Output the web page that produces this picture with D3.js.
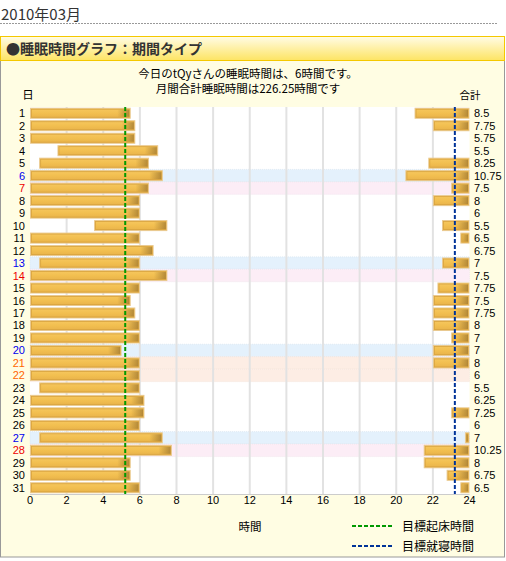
<!DOCTYPE html>
<html>
<head>
<meta charset="utf-8">
<script src="https://cdn.jsdelivr.net/npm/d3@7"></script>
<style>
  body { margin: 0; background: #fff; }
  text { font-family: "Liberation Sans", Arial, "Noto Sans CJK JP", sans-serif; }
  .jp { font-family: "Noto Sans CJK JP", sans-serif; }
</style>
</head>
<body>
<svg id="chart" width="506" height="561"></svg>
<script>
// one row per day of March 2010
const days = d3.range(1, 32);
// morning part of the sleep (hours after midnight)
const wakeStart = [0,0,0,1.5,0.5,0,0,0,0,3.5,0,0,0.5,0,0,0,0,0,0,0,0,0,0.5,0,0,0,0.5,0,0,0,0];
const wakeEnd   = [5.5,5.75,5.75,7,6.5,7.25,6.5,6,6,7.5,6,6.75,6,7.5,6,5.5,5.75,6,6,5,6,6,6,6.25,6.25,6,7.25,7.75,5.5,5.5,6];
// evening part: time the user went to bed (null = after midnight)
const bedStart  = [21,22,null,null,21.75,20.5,23,22,null,22.5,23.5,null,22.5,null,22.25,22,22,22,23,22,22,null,null,null,23,null,23.75,21.5,21.5,22.75,23.5];
const totals = ["8.5","7.75","5.75","5.5","8.25","10.75","7.5","8","6","5.5","6.5","6.75","7","7.5","7.75","7.5","7.75","8","7","7","8","6","5.5","6.25","7.25","6","7","10.25","8","6.75","6.5"];
// "sat", "sun", "hol" or ""
const dayType = ["","","","","","sat","sun","","","","","","sat","sun","","","","","","sat","hol","hol","","","","","sat","sun","","",""];
const xTicks = [0,2,4,6,8,10,12,14,16,18,20,22,24];
const goalWake = 5.2;
const goalBed = 23.2;

const typeText = {sat: "#0000ee", sun: "#ee0000", hol: "#ff6600", "": "#000"};
const typeBand = {sat: "#e4f1fc", sun: "#fcedf6", hol: "#fdede4"};

const svg = d3.select("#chart");
const defs = svg.append("defs");

const hg = defs.append("linearGradient").attr("id", "hdr").attr("x1", 0).attr("y1", 0).attr("x2", 0).attr("y2", 1);
hg.append("stop").attr("offset", "0%").attr("stop-color", "#fffce6");
hg.append("stop").attr("offset", "100%").attr("stop-color", "#fde463");

const bg = defs.append("linearGradient").attr("id", "bar").attr("x1", 0).attr("y1", 0).attr("x2", 0).attr("y2", 1);
bg.append("stop").attr("offset", "0%").attr("stop-color", "#f6c860");
bg.append("stop").attr("offset", "50%").attr("stop-color", "#f2bf50");
bg.append("stop").attr("offset", "100%").attr("stop-color", "#e8b24a");

const eg = defs.append("linearGradient").attr("id", "barEnd").attr("x1", 0).attr("y1", 0).attr("x2", 1).attr("y2", 0);
eg.append("stop").attr("offset", "0%").attr("stop-color", "#a07830").attr("stop-opacity", 0);
eg.append("stop").attr("offset", "100%").attr("stop-color", "#a07830").attr("stop-opacity", 0.75);

// page title
svg.append("text").attr("class", "jp").attr("x", 1).attr("y", 20)
  .attr("font-size", 15).attr("fill", "#333").text("2010年03月");
svg.append("line").attr("x1", 0).attr("x2", 498).attr("y1", 23.5).attr("y2", 23.5)
  .attr("stroke", "#999").attr("stroke-dasharray", "2,1");

// panel
svg.append("rect").attr("x", 0.5).attr("y", 60).attr("width", 504).attr("height", 497)
  .attr("fill", "#fffde3").attr("stroke", "#999");
svg.append("rect").attr("x", 0.5).attr("y", 36.5).attr("width", 504).attr("height", 24)
  .attr("fill", "url(#hdr)").attr("stroke", "#f5c800");
svg.append("text").attr("class", "jp").attr("x", 6).attr("y", 54)
  .attr("font-size", 14).attr("font-weight", "bold").attr("fill", "#333")
  .text("●睡眠時間グラフ：期間タイプ");

svg.append("text").attr("class", "jp").attr("x", 248).attr("y", 78).attr("text-anchor", "middle")
  .attr("font-size", 11.5).text("今日のtQyさんの睡眠時間は、6時間です。");
svg.append("text").attr("class", "jp").attr("x", 248).attr("y", 93).attr("text-anchor", "middle")
  .attr("font-size", 11.5).text("月間合計睡眠時間は226.25時間です");
svg.append("text").attr("class", "jp").attr("x", 28).attr("y", 99).attr("text-anchor", "middle")
  .attr("font-size", 11.5).text("日");
svg.append("text").attr("class", "jp").attr("x", 470).attr("y", 99).attr("text-anchor", "middle")
  .attr("font-size", 10.5).text("合計");

// scales
const x = d3.scaleLinear().domain([0, 24]).range([30, 469.5]);
const y = d3.scaleBand().domain(days).range([107, 494]);
const bh = 10;

const plot = svg.append("g");
plot.append("rect").attr("x", x(0)).attr("y", y.range()[0])
  .attr("width", x(24) - x(0)).attr("height", y.range()[1] - y.range()[0]).attr("fill", "#fff");

// weekend / holiday bands
const rows = days.map((d, i) => ({day: d, type: dayType[i], ws: wakeStart[i], we: wakeEnd[i], bs: bedStart[i], total: totals[i]}));
plot.selectAll(".band").data(rows.filter(r => r.type)).join("rect")
  .attr("x", x(0)).attr("y", r => y(r.day))
  .attr("width", x(24) - x(0)).attr("height", y.bandwidth())
  .attr("fill", r => typeBand[r.type])
  .attr("stroke", r => d3.color(typeBand[r.type]).darker(0.15))
  .attr("stroke-width", 0.6).attr("stroke-dasharray", "1,1");

// grid
plot.selectAll(".grid").data(xTicks.slice(1, -1)).join("line")
  .attr("x1", d => x(d)).attr("x2", d => x(d))
  .attr("y1", y.range()[0]).attr("y2", y.range()[1])
  .attr("stroke", "#e2e2e2").attr("stroke-width", 2);

// bars: morning part and evening part
const segs = [];
rows.forEach(r => {
  segs.push({day: r.day, a: r.ws, b: r.we});
  if (r.bs !== null) segs.push({day: r.day, a: r.bs, b: 24});
});
const bars = plot.selectAll(".seg").data(segs).join("g");
bars.append("rect")
  .attr("x", s => x(s.a) + 0.5).attr("y", s => y(s.day) + (y.bandwidth() - bh) / 2)
  .attr("width", s => x(s.b) - x(s.a) - 1).attr("height", bh)
  .attr("fill", "url(#bar)").attr("stroke", "#e9c990").attr("stroke-width", 1);
bars.append("rect")
  .attr("x", s => x(s.a) + 1.5).attr("y", s => y(s.day) + (y.bandwidth() - bh) / 2 + 1)
  .attr("width", s => x(s.b) - x(s.a) - 3).attr("height", bh - 2)
  .attr("fill", "none").attr("stroke", "#d9a440").attr("stroke-width", 0.8);
bars.append("rect")
  .attr("x", s => x(s.b) - Math.min(12, x(s.b) - x(s.a) - 2) - 1.5)
  .attr("y", s => y(s.day) + (y.bandwidth() - bh) / 2 + 1.5)
  .attr("width", s => Math.min(12, x(s.b) - x(s.a) - 2)).attr("height", bh - 3)
  .attr("fill", "url(#barEnd)");

// goal lines
plot.append("line").attr("x1", x(goalWake)).attr("x2", x(goalWake))
  .attr("y1", y.range()[0]).attr("y2", y.range()[1])
  .attr("stroke", "#009900").attr("stroke-width", 2).attr("stroke-dasharray", "4,2");
plot.append("line").attr("x1", x(goalBed)).attr("x2", x(goalBed))
  .attr("y1", y.range()[0]).attr("y2", y.range()[1])
  .attr("stroke", "#003399").attr("stroke-width", 2).attr("stroke-dasharray", "4,2");

// bottom axis
plot.append("line").attr("x1", x(0)).attr("x2", x(24)).attr("y1", y.range()[1] + 0.5).attr("y2", y.range()[1] + 0.5)
  .attr("stroke", "#ccc");
plot.selectAll(".xt").data(xTicks).join("text")
  .attr("x", d => x(d)).attr("y", 504).attr("text-anchor", "middle")
  .attr("font-size", 11).text(d => d);

// day labels and totals
plot.selectAll(".dl").data(rows).join("text")
  .attr("x", 25).attr("y", r => y(r.day) + y.bandwidth() / 2 + 4).attr("text-anchor", "end")
  .attr("font-size", 11).attr("fill", r => typeText[r.type]).text(r => r.day);
plot.selectAll(".tl").data(rows).join("text")
  .attr("x", 474).attr("y", r => y(r.day) + y.bandwidth() / 2 + 4)
  .attr("font-size", 11).text(r => r.total);

svg.append("text").attr("class", "jp").attr("x", 250).attr("y", 531).attr("text-anchor", "middle")
  .attr("font-size", 11.5).text("時間");

// legend
const legend = [{label: "目標起床時間", color: "#009900", y: 526}, {label: "目標就寝時間", color: "#003399", y: 546}];
const lg = svg.selectAll(".lg").data(legend).join("g");
lg.append("line").attr("x1", 352).attr("x2", 394).attr("y1", d => d.y).attr("y2", d => d.y)
  .attr("stroke", d => d.color).attr("stroke-width", 2).attr("stroke-dasharray", "4,2");
lg.append("text").attr("class", "jp").attr("x", 402).attr("y", d => d.y + 5)
  .attr("font-size", 12).text(d => d.label);
</script>
</body>
</html>
